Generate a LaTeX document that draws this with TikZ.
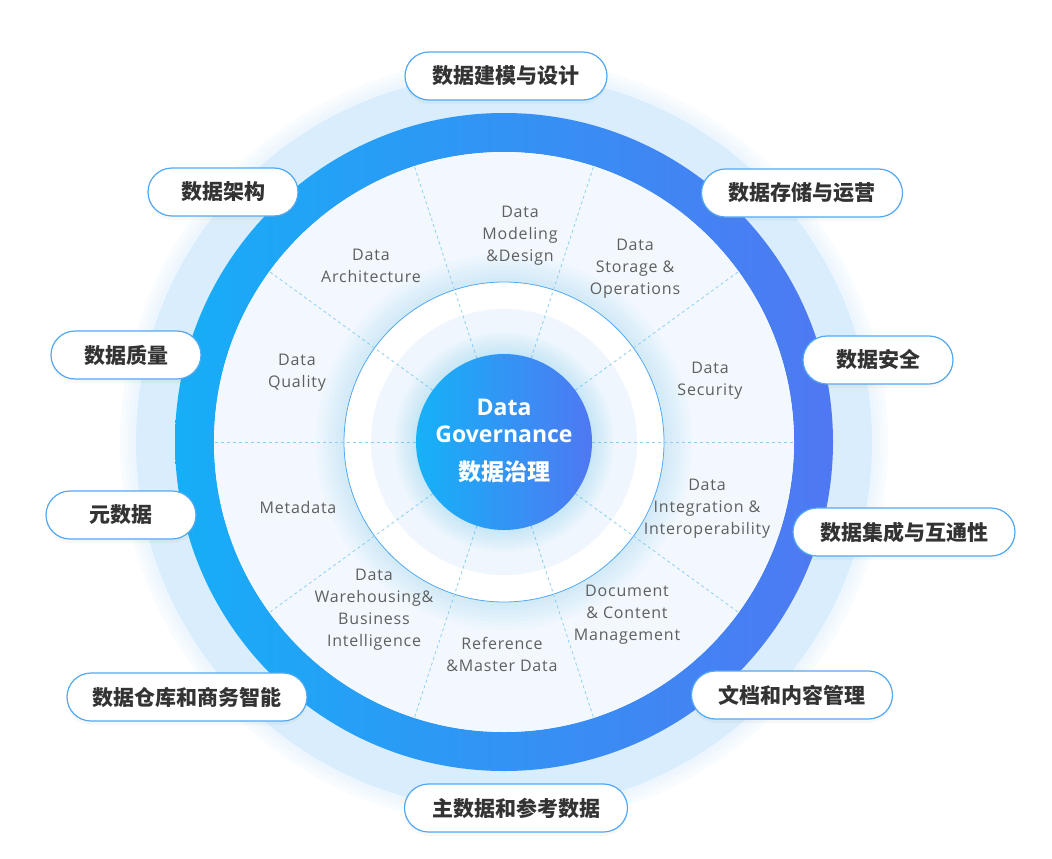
\documentclass[tikz,border=0pt]{standalone}
\usepackage{fontspec}
\setmainfont{Open Sans}
\newfontfamily\cjk{Noto Sans CJK SC}
\newfontfamily\segfont[LetterSpace=5]{Open Sans}
\usetikzlibrary{shapes.misc,shadows}

\definecolor{ringL}{HTML}{16AEF7}
\definecolor{ringR}{HTML}{4F78F2}
\definecolor{halo}{HTML}{D9EDFC}
\definecolor{segbg}{HTML}{F3F8FE}
\definecolor{paleband}{HTML}{EFF6FD}
\definecolor{dashblue}{HTML}{8CCFF2}
\definecolor{pillline}{HTML}{52A8F3}
\definecolor{inktext}{HTML}{333333}
\definecolor{segtext}{HTML}{5F5F5F}

\begin{document}
\begin{tikzpicture}[x=1pt,y=-1pt,
  pill/.style={shape=rounded rectangle,draw=pillline,line width=1.2pt,fill=white,
    minimum height=48pt,inner xsep=0pt,text=inktext,
    font=\cjk\bfseries\fontsize{21}{25}\selectfont,
    drop shadow={opacity=.06,shadow xshift=0pt,shadow yshift=-4pt}},
  seglabel/.style={align=center,text=segtext,font=\segfont\fontsize{16}{22}\selectfont},
  cut/.style={dashblue,dash pattern=on 3pt off 3pt,line width=.8pt},
  coretext/.style={text=white,align=center}]
  \useasboundingbox (0,0) rectangle (1052,859);
  \coordinate (c) at (504,442);

  % rings
  \foreach \r in {384,380,...,370}
    \fill[halo,opacity=.15] (c) circle (\r);
  \fill[halo] (c) circle (368);
  \shade[even odd rule,left color=ringL,right color=ringR] (c) circle (329) (c) circle (290);
  \fill[segbg] (c) circle (290);
  \foreach \r in {188,184,...,161}
    \fill[ringL,opacity=.018] (c) circle (\r);
  \fill[white] (c) circle (160);
  \draw[pillline,line width=.8pt] (c) circle (160);
  \fill[paleband] (c) circle (133);
  \foreach \a in {0,36,...,324}
    \draw[cut] ([shift={(\a:88)}]c) -- ([shift={(\a:290)}]c);

  % core
  \foreach \r in {110,107,...,89}
    \fill[ringL,opacity=.025] (c) circle (\r);
  \node[circle,minimum size=176pt,inner sep=0pt,left color=ringL!95!cyan,right color=ringR] (core) at (c) {};
  \node[coretext,font=\bfseries\fontsize{23}{27}\selectfont] (coreEN) at (504,421) {Data\\Governance};
  \node[coretext,font=\cjk\bfseries\fontsize{23}{27}\selectfont] (coreCN) at (504,472) {数据治理};

  % segment labels
  \node[seglabel] (sModel) at (520,236) {Data\\Modeling\\\&Design};
  \node[seglabel] (sStore) at (635,269) {Data\\Storage \&\\Operations};
  \node[seglabel] (sSec) at (710,381) {Data\\Security};
  \node[seglabel] (sInteg) at (707,509) {Data\\Integration \&\\Interoperability};
  \node[seglabel] (sDoc) at (627,615) {Document\\\& Content\\Management};
  \node[seglabel] (sRef) at (502,654) {Reference\\\&Master Data};
  \node[seglabel] (sDW) at (374,610) {Data\\Warehousing\&\\Business\\Intelligence};
  \node[seglabel] (sMeta) at (298,507) {Metadata};
  \node[seglabel] (sQual) at (297,373) {Data\\Quality};
  \node[seglabel] (sArch) at (371,266) {Data\\Architecture};

  % pills
  \node[pill,minimum width=202pt] (pModel) at (506,76) {数据建模与设计};
  \node[pill,minimum width=150pt] (pArch) at (223,192) {数据架构};
  \node[pill,minimum width=201pt] (pStore) at (802,193) {数据存储与运营};
  \node[pill,minimum width=150pt] (pQual) at (126,355) {数据质量};
  \node[pill,minimum width=150pt] (pSec) at (878,360) {数据安全};
  \node[pill,minimum width=150pt] (pMeta) at (121,515) {元数据};
  \node[pill,minimum width=222pt] (pInteg) at (904,532) {数据集成与互通性};
  \node[pill,minimum width=240pt] (pDW) at (187,697) {数据仓库和商务智能};
  \node[pill,minimum width=201pt] (pDoc) at (792,695) {文档和内容管理};
  \node[pill,minimum width=223pt] (pRef) at (516,808) {主数据和参考数据};
\end{tikzpicture}
\end{document}
